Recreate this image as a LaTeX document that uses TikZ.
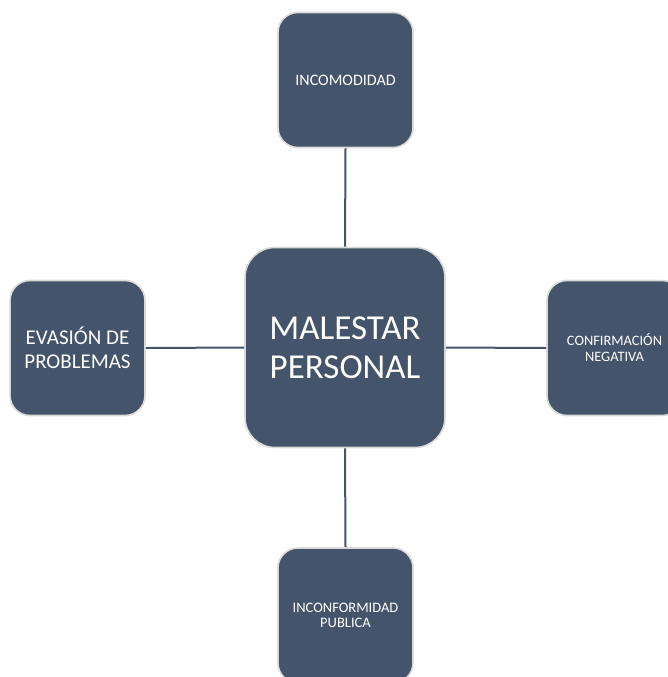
\documentclass[tikz,border=0pt]{standalone}
\usepackage{fontspec}
\setmainfont{Carlito}
\definecolor{boxfill}{HTML}{44546A}
\definecolor{boxedge}{HTML}{DADADA}
\begin{document}
\begin{tikzpicture}[x=1pt,y=-1pt,
  card/.style={draw=boxedge,line width=1.6pt,fill=boxfill,rounded corners=20pt,
    minimum width=135pt,minimum height=135pt,text=white,align=center,inner sep=2pt},
  bigcard/.style={card,minimum width=200pt,minimum height=200pt,rounded corners=30pt},
  link/.style={draw=boxfill,line width=2pt}]
\useasboundingbox (0,0) rectangle (667,677);
\node[bigcard,font=\fontsize{35}{39}\selectfont] (c) at (345,347.5) {MALESTAR\\PERSONAL};
\node[card,font=\fontsize{16}{18}\selectfont] (t) at (345.5,80) {INCOMODIDAD};
\node[card,font=\fontsize{21}{24}\selectfont] (l) at (77.5,348) {EVASIÓN DE\\PROBLEMAS};
\node[card,font=\fontsize{14.4}{16}\selectfont] (r) at (614.5,348) {CONFIRMACIÓN\\NEGATIVA};
\node[card,font=\fontsize{14.5}{15}\selectfont] (b) at (345.5,615.5) {INCONFORMIDAD\\PUBLICA};
\draw[link] (t.south) -- (c.north);
\draw[link] (l.east) -- (c.west);
\draw[link] (c.east) -- (r.west);
\draw[link] (c.south) -- (b.north);
\end{tikzpicture}
\end{document}
